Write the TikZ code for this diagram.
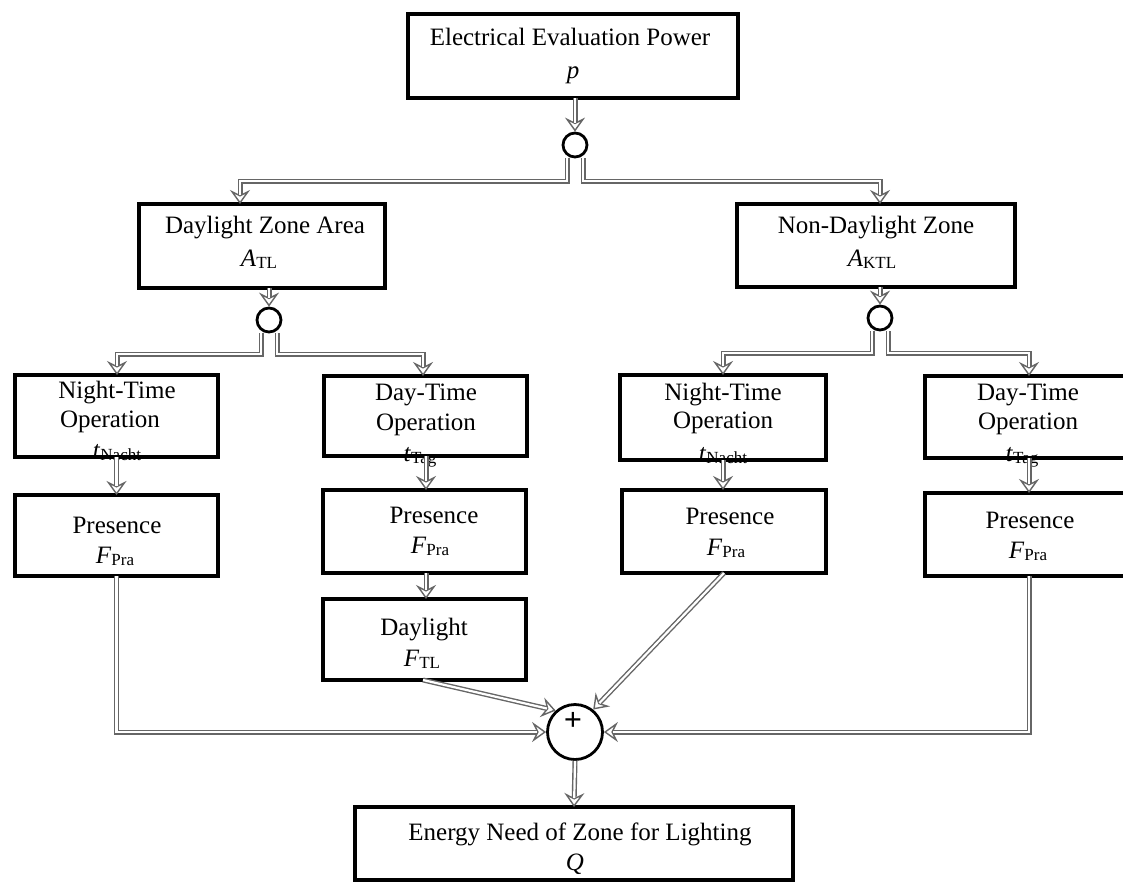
\documentclass[tikz,border=0pt]{standalone}
\usepackage{fontspec}
\setmainfont{Liberation Serif}
\usetikzlibrary{arrows.meta}
\newcommand\sbt[1]{\raisebox{-0.1em}{\fontsize{17}{17}\selectfont #1}}
\tikzset{
  x=1pt, y=-1pt,
  box/.style={draw=black, line width=4pt, inner sep=0pt, outer sep=0pt},
  txt/.style={anchor=base, inner sep=0pt, font=\fontsize{25}{29}\selectfont},
  conn/.style={draw=gray!80!black, line width=5pt,
    -{Stealth[open, length=14pt, width=20pt, inset=5pt, line width=1.4pt, fill=white]},
    postaction={draw=white, line width=2.2pt, -, shorten >=9pt}},
  junc/.style={circle, draw=black, line width=2.8pt, fill=white, minimum size=24pt, inner sep=0pt},
  sum/.style={circle, draw=black, line width=2.8pt, fill=white, minimum size=55pt, inner sep=0pt}
}
\begin{document}
\begin{tikzpicture}
\useasboundingbox (0,0) rectangle (1123,886);
\clip (0,0) rectangle (1123,886);
\fill[white] (0,0) rectangle (1123,886);

% texts
\node[txt] (Pt1) at (570,45) {Electrical Evaluation Power};
\node[txt] (Pt2) at (573,78) {\textit{p}};
\node[txt] (At1) at (265,233) {Daylight Zone Area};
\node[txt] (At2) at (259,266) {\textit{A}\sbt{TL}};
\node[txt] (Bt1) at (876,233) {Non-Daylight Zone};
\node[txt] (Bt2) at (872,266) {\textit{A}\sbt{KTL}};
\node[txt] (N1a) at (117,398) {Night-Time};
\node[txt] (N1b) at (110,427) {Operation};
\node[txt] (N1c) at (117,458) {\textit{t}\sbt{Nacht}};
\node[txt] (D2a) at (426,400) {Day-Time};
\node[txt] (D2b) at (426,430) {Operation};
\node[txt] (D2c) at (420,461) {\textit{t}\sbt{Tag}};
\node[txt] (N3a) at (723,400) {Night-Time};
\node[txt] (N3b) at (723,428) {Operation};
\node[txt] (N3c) at (723,461) {\textit{t}\sbt{Nacht}};
\node[txt] (D4a) at (1028,400) {Day-Time};
\node[txt] (D4b) at (1028,429) {Operation};
\node[txt] (D4c) at (1022,461) {\textit{t}\sbt{Tag}};
\node[txt] (R1a) at (117,533) {Presence};
\node[txt] (R1b) at (115,563) {\textit{F}\sbt{Pra}};
\node[txt] (R2a) at (434,523) {Presence};
\node[txt] (R2b) at (430,553) {\textit{F}\sbt{Pra}};
\node[txt] (L2a) at (424,635) {Daylight};
\node[txt] (L2b) at (422,666) {\textit{F}\sbt{TL}};
\node[txt] (R3a) at (730,524) {Presence};
\node[txt] (R3b) at (726,555) {\textit{F}\sbt{Pra}};
\node[txt] (R4a) at (1030,528) {Presence};
\node[txt] (R4b) at (1028,558) {\textit{F}\sbt{Pra}};
\node[txt] (Et1) at (580,840) {Energy Need of Zone for Lighting};
\node[txt] (Et2) at (575,870) {\textit{Q}};

% boxes
\node[box, minimum width=330pt, minimum height=84pt] (P) at (573,56) {};
\node[box, minimum width=246pt, minimum height=84pt] (A) at (262,246) {};
\node[box, minimum width=278pt, minimum height=83pt] (B) at (876,245.5) {};
\node[box, minimum width=203pt, minimum height=82pt] (N1) at (116.5,416) {};
\node[box, minimum width=203pt, minimum height=81pt] (R1) at (116.5,535.5) {};
\node[box, minimum width=203pt, minimum height=80pt] (D2) at (425.5,416) {};
\node[box, minimum width=203pt, minimum height=83pt] (R2) at (424.5,531.5) {};
\node[box, minimum width=203pt, minimum height=81pt] (L2) at (424.5,639.5) {};
\node[box, minimum width=206pt, minimum height=85pt] (N3) at (723,417.5) {};
\node[box, minimum width=204pt, minimum height=83pt] (R3) at (724,531.5) {};
\node[box, minimum width=206pt, minimum height=82pt] (D4) at (1028,417) {};
\node[box, minimum width=206pt, minimum height=83pt] (R4) at (1028,534.5) {};
\node[box, minimum width=438pt, minimum height=73pt] (E) at (574,843.5) {};

% junctions
\node[junc] (c0) at (575,145) {};
\node[junc] (c1) at (269,320) {};
\node[junc] (c2) at (880,318) {};
\node[sum] (S) at (575,732) {};
\node[inner sep=0pt, font=\fontsize{32}{32}\selectfont\bfseries] (plus) at (573,721) {+};

% connectors top level
\draw[conn] (c0 |- P.south) -- (c0.north);
\draw[conn] ([xshift=-8pt]c0.south) |- (240,181) -- (240,0 |- A.north);
\draw[conn] ([xshift=8pt]c0.south) |- (880,181) -- (880,0 |- B.north);

% second level
\draw[conn] (c1 |- A.south) -- (c1.north);
\draw[conn] ([xshift=-8pt]c1.south) |- (117,354) -- (117,0 |- N1.north);
\draw[conn] ([xshift=8pt]c1.south) |- (423,354) -- (423,0 |- D2.north);
\draw[conn] (c2 |- B.south) -- (c2.north);
\draw[conn] ([xshift=-8pt]c2.south) |- (723,353) -- (723,0 |- N3.north);
\draw[conn] ([xshift=8pt]c2.south) |- (1029,353) -- (1029,0 |- D4.north);

% columns
\draw[conn] (N1.south) -- (R1.north);
\draw[conn] (426,0 |- D2.south) -- (426,0 |- R2.north);
\draw[conn] (426,0 |- R2.south) -- (426,0 |- L2.north);
\draw[conn] (N3.south) -- (N3.south |- R3.north);
\draw[conn] (1029,0 |- D4.south) -- (1029,0 |- R4.north);

% into sum
\draw[conn] (R1.south) |- (S.west);
\draw[conn] (1029,0 |- R4.south) |- (S.east);
\draw[conn] (423,0 |- L2.south) -- (S.132);
\draw[conn] (R3.south) -- (S.51);
\draw[conn] (S.south) -- (E.north);
\end{tikzpicture}
\end{document}
